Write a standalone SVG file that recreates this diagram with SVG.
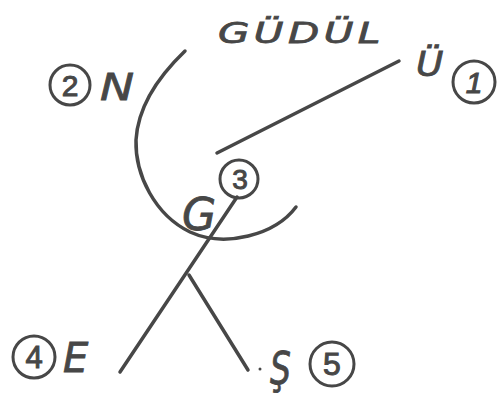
<svg xmlns="http://www.w3.org/2000/svg" width="503" height="403" viewBox="0 0 503 403">
<style>
.ln{fill:none;stroke:#474747;stroke-width:3.5;stroke-linecap:round;stroke-linejoin:round}
.ring{fill:none;stroke:#474747;stroke-width:3}
.t{font-family:"DejaVu Sans","Liberation Sans",sans-serif;font-style:italic;fill:#474747;stroke:#474747;stroke-width:0.8}
.n{font-family:"Liberation Sans",Arial,sans-serif;fill:#474747;text-anchor:middle;stroke:#474747;stroke-width:1}
</style>
<rect width="503" height="403" fill="#ffffff"/>
<g id="connectors">
<path class="ln" d="M185,51 C160,75 138,105 136,140 C135,175 155,215 190,232 C225,248 275,235 296,207"/>
<line class="ln" x1="399" y1="61" x2="217" y2="153"/>
<line class="ln" x1="237" y1="197" x2="120" y2="372"/>
<line class="ln" x1="189" y1="275" x2="248" y2="370"/>
<circle cx="260" cy="369" r="1.5" fill="#474747"/>
</g>
<g id="title">
<text class="t" x="218" y="43" font-size="29" textLength="116" lengthAdjust="spacing" transform="translate(218 0) scale(1.4 1) translate(-218 0)">GÜDÜL</text>
</g>
<g id="node-N">
<circle class="ring" cx="70" cy="85" r="20"/>
<text class="n" x="70" y="96" font-size="30">2</text>
<text class="t" x="100" y="100" font-size="38" transform="translate(100 0) scale(1.2 1) translate(-100 0)">N</text>
</g>
<g id="node-U">
<text class="t" x="416" y="76" font-size="34" transform="translate(416 0) scale(1.1 1) translate(-416 0)">Ü</text>
<circle class="ring" cx="474" cy="82" r="21"/>
<text class="n" x="474" y="93" font-size="30" font-style="italic">1</text>
</g>
<g id="node-G">
<circle class="ring" cx="239" cy="179" r="19" stroke-width="5"/>
<text class="n" x="240" y="189" font-size="28">3</text>
<text class="t" x="182" y="230" font-size="44">G</text>
</g>
<g id="node-E">
<circle class="ring" cx="34" cy="357" r="21"/>
<text class="n" x="34" y="368" font-size="31">4</text>
<text class="t" x="63" y="372" font-size="40">E</text>
</g>
<g id="node-S">
<text class="t" x="270" y="384" font-size="44" transform="translate(270 0) scale(0.75 1) translate(-270 0)">Ş</text>
<circle class="ring" cx="332" cy="364" r="22"/>
<text class="n" x="332" y="375" font-size="32">5</text>
</g>
</svg>
